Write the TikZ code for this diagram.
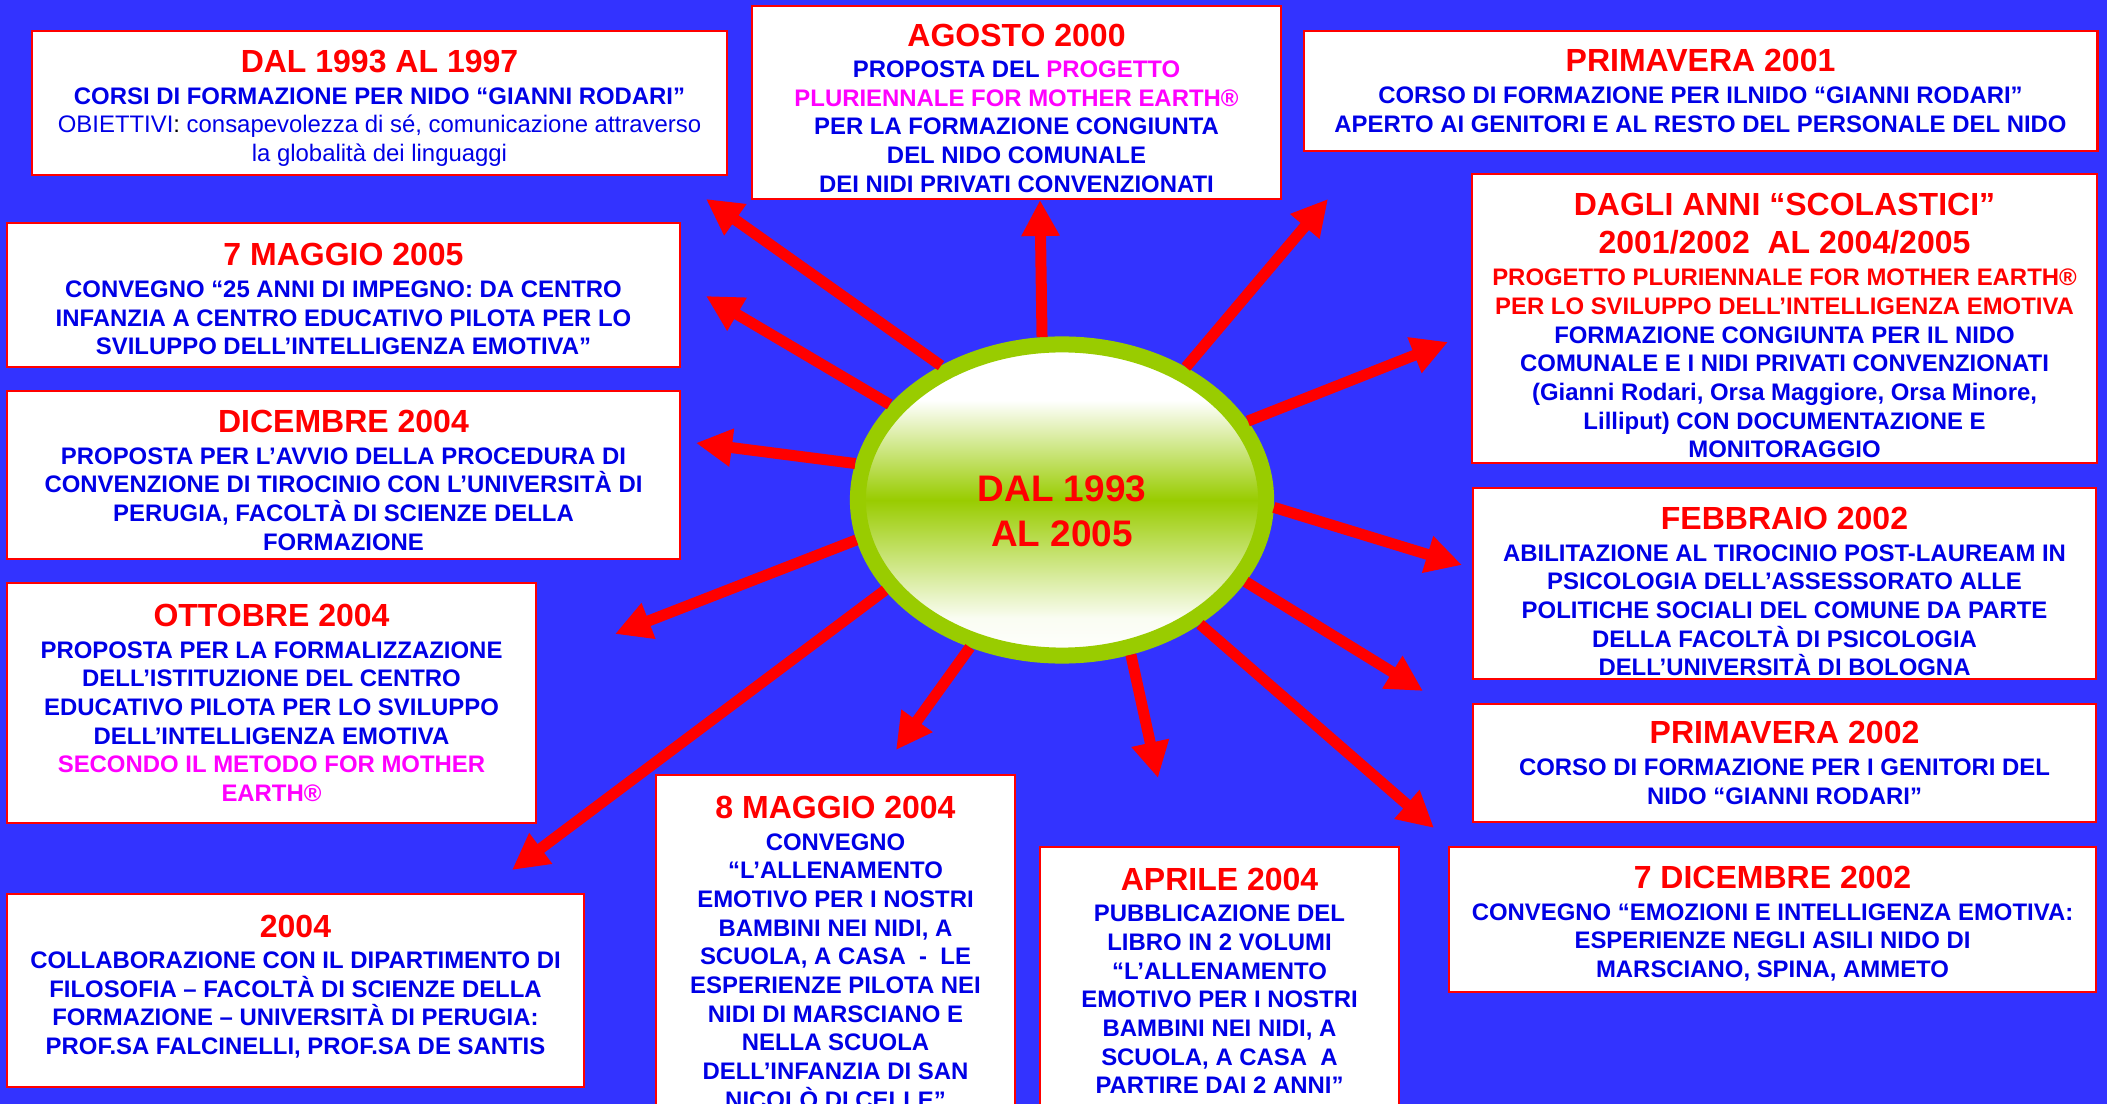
\documentclass[tikz,border=0pt]{standalone}
\usepackage{fontspec}
\setmainfont{Liberation Sans}
\usepackage{tikz}
\usetikzlibrary{shapes,arrows.meta}
\usepackage{xcolor}
\definecolor{bgblue}{RGB}{51,51,255}
\definecolor{datered}{RGB}{255,0,0}
\definecolor{textblue}{RGB}{0,0,230}
\definecolor{earthpink}{RGB}{255,0,255}
\definecolor{ringgreen}{RGB}{153,204,0}
\pgfdeclareverticalshading{hubshade}{100bp}{color(0bp)=(white); color(25bp)=(white);
  color(31bp)=(white!95!ringgreen); color(50bp)=(ringgreen); color(66bp)=(white); color(100bp)=(white)}
% first line of a box, optional strut pushes the text down
\newcommand{\boxtitle}[2][0pt]{{\fontsize{9.1}{9}\selectfont\color{datered}\rule{0pt}{#1}#2}}
\newcommand{\pinktxt}[1]{\textcolor{earthpink}{#1}}

\begin{document}
\begin{tikzpicture}[x=0.01cm, y=-0.01cm,
  box/.style={draw=datered, line width=0.7pt, fill=white, align=center, inner sep=0pt,
    text=textblue, font=\fontsize{6.8}{8.15}\selectfont\bfseries},
  arr/.style={datered, line width=0.11cm, -{Triangle[length=0.36cm,width=0.36cm]}},
  hub/.style={ellipse, draw=ringgreen, line width=0.16cm, shade, shading=hubshade,
    minimum width=4.08cm, minimum height=3.11cm, inner sep=0pt},
  hubtxt/.style={align=center, text=datered, font=\fontsize{10.5}{12.8}\selectfont\bfseries}]
\useasboundingbox (0,0) rectangle (2107,1104);
\fill[bgblue] (0,0) rectangle (2107,1104);
\clip (0,0) rectangle (2107,1104);

% Left column
\node[box, minimum width=6.95cm, minimum height=1.44cm] (y1997) at (379.5,103)
  {\boxtitle[9.5pt]{DAL 1993 AL 1997}\\[0.8pt]
   CORSI DI FORMAZIONE PER NIDO “GIANNI RODARI”\\
   {\mdseries OBIETTIVI\textcolor{black}{:} consapevolezza di sé, comunicazione attraverso}\\
   {\mdseries la globalità dei linguaggi}};
\node[box, minimum width=6.73cm, minimum height=1.44cm] (mag2005) at (343.5,295)
  {\boxtitle[8.8pt]{7 MAGGIO 2005}\\[0.8pt]
   CONVEGNO “25 ANNI DI IMPEGNO: DA CENTRO\\
   INFANZIA A CENTRO EDUCATIVO PILOTA PER LO\\
   SVILUPPO DELL’INTELLIGENZA EMOTIVA”};
\node[box, minimum width=6.73cm, minimum height=1.68cm] (dic2004) at (343.5,475)
  {\boxtitle[9.5pt]{DICEMBRE 2004}\\[0.8pt]
   PROPOSTA PER L’AVVIO DELLA PROCEDURA DI\\
   CONVENZIONE DI TIROCINIO CON L’UNIVERSITÀ DI\\
   PERUGIA, FACOLTÀ DI SCIENZE DELLA\\
   FORMAZIONE};
\node[box, minimum width=5.29cm, minimum height=2.40cm] (ott2004) at (271.5,703)
  {\boxtitle{OTTOBRE 2004}\\[0.8pt]
   PROPOSTA PER LA FORMALIZZAZIONE\\
   DELL’ISTITUZIONE DEL CENTRO\\
   EDUCATIVO PILOTA PER LO SVILUPPO\\
   DELL’INTELLIGENZA EMOTIVA\\
   \pinktxt{SECONDO IL METODO FOR MOTHER}\\
   \pinktxt{EARTH®}};
\node[box, minimum width=5.77cm, minimum height=1.93cm] (y2004) at (295.5,990.5)
  {\boxtitle{2004}\\[0.8pt]
   COLLABORAZIONE CON IL DIPARTIMENTO DI\\
   FILOSOFIA – FACOLTÀ DI SCIENZE DELLA\\
   FORMAZIONE – UNIVERSITÀ DI PERUGIA:\\
   PROF.SA FALCINELLI, PROF.SA DE SANTIS\rule[-3.3pt]{0pt}{0pt}};

% Top and bottom middle
\node[box, minimum width=5.29cm, minimum height=1.93cm] (ago2000) at (1016.5,102.5)
  {\boxtitle[9.5pt]{AGOSTO 2000}\\[0.8pt]
   PROPOSTA DEL \pinktxt{PROGETTO}\\
   \pinktxt{PLURIENNALE FOR MOTHER EARTH®}\\
   PER LA FORMAZIONE CONGIUNTA\\
   DEL NIDO COMUNALE\\
   DEI NIDI PRIVATI CONVENZIONATI};
\node[box, minimum width=3.59cm, minimum height=3.55cm] (mag2004) at (835.5,952.5)
  {\boxtitle{8 MAGGIO 2004}\\[0.8pt]
   CONVEGNO\\
   “L’ALLENAMENTO\\
   EMOTIVO PER I NOSTRI\\
   BAMBINI NEI NIDI, A\\
   SCUOLA, A CASA\ \ -\ \ LE\\
   ESPERIENZE PILOTA NEI\\
   NIDI DI MARSCIANO E\\
   NELLA SCUOLA\\
   DELL’INFANZIA DI SAN\\
   NICOLÒ DI CELLE”};
\node[box, minimum width=3.59cm, minimum height=2.59cm] (apr2004) at (1219.5,976.5)
  {\boxtitle[8.8pt]{APRILE 2004}\\[0.8pt]
   PUBBLICAZIONE DEL\\
   LIBRO IN 2 VOLUMI\\
   “L’ALLENAMENTO\\
   EMOTIVO PER I NOSTRI\\
   BAMBINI NEI NIDI, A\\
   SCUOLA, A CASA\ \ A\\
   PARTIRE DAI 2 ANNI”};

% Right column
\node[box, minimum width=7.93cm, minimum height=1.20cm] (pri2001) at (1700.5,91)
  {\boxtitle{PRIMAVERA 2001}\\[0.8pt]
   CORSO DI FORMAZIONE PER ILNIDO “GIANNI RODARI”\\
   APERTO AI GENITORI E AL RESTO DEL PERSONALE DEL NIDO};
\node[box, minimum width=6.25cm, minimum height=2.89cm] (sco2001) at (1784.5,318.5)
  {\boxtitle[10.5pt]{DAGLI ANNI “SCOLASTICI”}\\[2.6pt]
   \boxtitle{2001/2002\ \ AL 2004/2005}\\[1pt]
   \textcolor{datered}{PROGETTO PLURIENNALE FOR MOTHER EARTH®}\\
   \textcolor{datered}{PER LO SVILUPPO DELL’INTELLIGENZA EMOTIVA}\\
   FORMAZIONE CONGIUNTA PER IL NIDO\\
   COMUNALE E I NIDI PRIVATI CONVENZIONATI\\
   (Gianni Rodari, Orsa Maggiore, Orsa Minore,\\
   Lilliput) CON DOCUMENTAZIONE E\\
   MONITORAGGIO};
\node[box, minimum width=6.23cm, minimum height=1.91cm] (feb2002) at (1784.5,583.5)
  {\boxtitle[11.1pt]{FEBBRAIO 2002}\\[0.8pt]
   ABILITAZIONE AL TIROCINIO POST-LAUREAM IN\\
   PSICOLOGIA DELL’ASSESSORATO ALLE\\
   POLITICHE SOCIALI DEL COMUNE DA PARTE\\
   DELLA FACOLTÀ DI PSICOLOGIA\\
   DELL’UNIVERSITÀ DI BOLOGNA};
\node[box, minimum width=6.23cm, minimum height=1.18cm] (pri2002) at (1784.5,763)
  {\boxtitle{PRIMAVERA 2002}\\[0.8pt]
   CORSO DI FORMAZIONE PER I GENITORI DEL\\
   NIDO “GIANNI RODARI”};
\node[box, minimum width=6.47cm, minimum height=1.45cm] (dic2002) at (1772.5,919.5)
  {\boxtitle[8.8pt]{7 DICEMBRE 2002}\\[0.8pt]
   CONVEGNO “EMOZIONI E INTELLIGENZA EMOTIVA:\\
   ESPERIENZE NEGLI ASILI NIDO DI\\
   MARSCIANO, SPINA, AMMETO};

% Centre
\node[hub] (hub) at (1062,500) {};
\node[hubtxt] (hublbl) at (1062,511) {DAL 1993\\AL 2005};

% Arrow tips
\coordinate (to1997) at (706,199);
\coordinate (to2000) at (1040,200);
\coordinate (to2001) at (1328,199);
\coordinate (to2005) at (706,296);
\coordinate (toSco) at (1448,342);
\coordinate (toDic04) at (696,443);
\coordinate (toFeb) at (1462,565);
\coordinate (toOtt) at (615,634);
\coordinate (toPri02) at (1423,691);
\coordinate (to2004) at (512,870);
\coordinate (toMag04) at (896,750);
\coordinate (toApr) at (1158,778);
\coordinate (toDic02) at (1434,828);

% Arrows
\foreach \ang/\tip in {132.2/to1997, 97.6/to2000, 47.9/to2001, 151.9/to2005,
    23.7/toSco, 170/toDic04, -2.2/toFeb, -169/toOtt, -24.5/toPri02,
    -153.9/to2004, -122/toMag04, -66.9/toApr, -42.6/toDic02}
  \draw[arr] (hub.\ang) -- (\tip);
\end{tikzpicture}
\end{document}
